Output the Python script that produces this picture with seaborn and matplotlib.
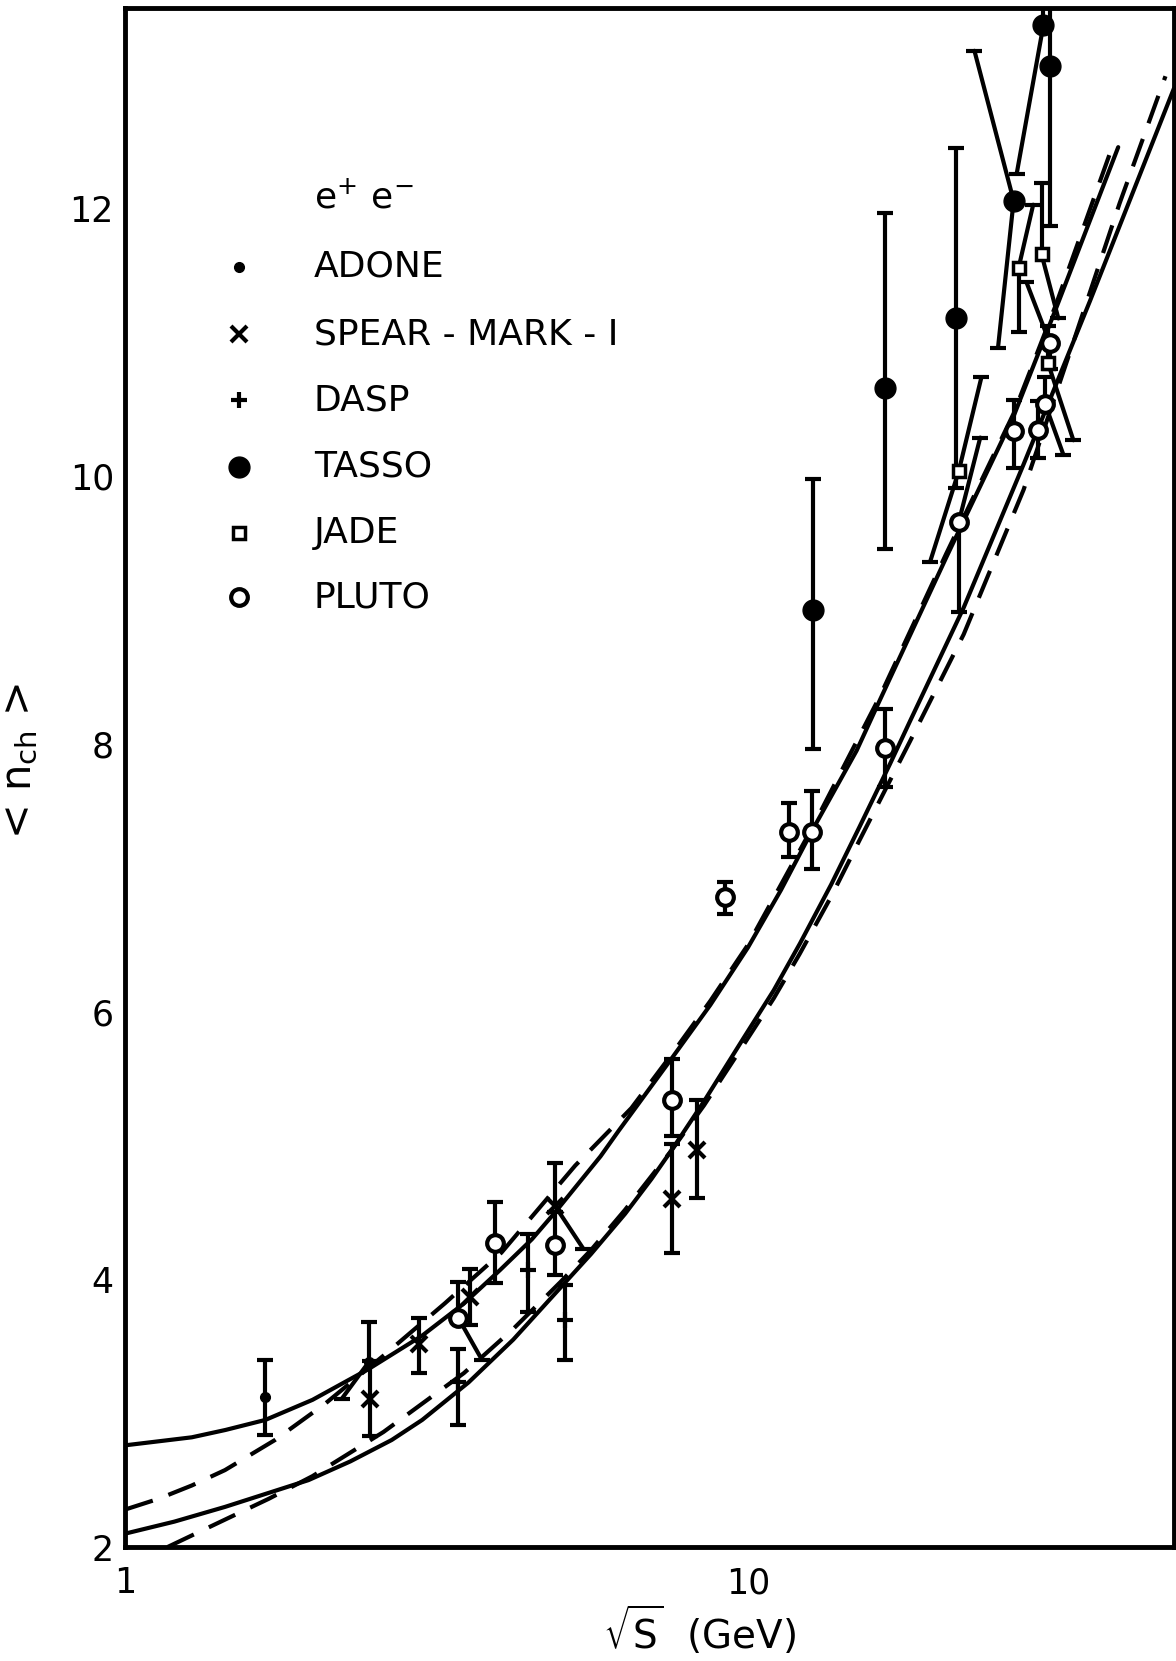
import matplotlib
matplotlib.use("Agg")
import matplotlib.pyplot as plt
import numpy as np
import pandas as pd
import seaborn as sb

nan = np.nan

# theory curves
upper_solid_x = [1.0, 1.28, 1.45, 1.68, 2.0, 2.46, 3.0, 3.5, 4.0, 4.5, 4.9, 5.8, 6.2, 7.54, 8.7, 10.0, 11.3, 12.7, 14.94, 16.29, 20.84, 26.7, 31.2, 39.3]
upper_solid_y = [2.76, 2.82, 2.875, 2.95, 3.10, 3.33, 3.58, 3.82, 4.07, 4.30, 4.50, 4.92, 5.11, 5.65, 6.05, 6.48, 6.91, 7.36, 7.95, 8.33, 9.40, 10.45, 11.25, 12.46]

upper_dash_x = [1.0, 1.131, 1.28, 1.447, 1.741, 2.094, 2.615, 3.26, 4.02, 5.28, 6.5, 7.54, 8.7, 10.0, 12.7, 16.3, 20.8, 26.7, 31.2, 38.7]
upper_dash_y = [2.28, 2.36, 2.46, 2.575, 2.80, 3.07, 3.44, 3.82, 4.20, 4.85, 5.28, 5.68, 6.08, 6.50, 7.38, 8.36, 9.42, 10.47, 11.28, 12.50]

lower_solid_x = [1.0, 1.2, 1.447, 1.97, 2.3, 2.68, 3.0, 3.56, 4.2, 4.96, 5.6, 6.35, 7.0, 7.54, 8.5, 9.83, 11.0, 12.12, 13.6, 15.1, 16.9, 18.2, 22.2, 27.7, 35.4, 48.3]
lower_solid_y = [2.10, 2.19, 2.30, 2.50, 2.64, 2.80, 2.95, 3.23, 3.55, 3.92, 4.19, 4.49, 4.75, 4.965, 5.33, 5.80, 6.16, 6.51, 6.95, 7.38, 7.85, 8.17, 9.02, 10.09, 11.31, 12.90]

lower_dash_x = [1.17, 1.41, 1.70, 2.0, 2.6, 3.5, 4.2, 5.0, 5.6, 6.35, 7.5, 8.5, 9.8, 11.0, 12.1, 13.6, 15.1, 18.2, 22.2, 27.7, 33.0, 39.5, 46.8]
lower_dash_y = [2.0, 2.18, 2.36, 2.53, 2.86, 3.30, 3.63, 3.98, 4.22, 4.52, 4.95, 5.30, 5.74, 6.10, 6.43, 6.86, 7.28, 8.02, 8.82, 9.90, 10.95, 12.04, 12.99]

# measurements: x, y, lower end, upper end of vertical bar (nan = bar is slanted / absent)
adone_x = [1.68, 2.46]
adone_y = [3.12, 3.38]
adone_lo = [2.84, nan]
adone_hi = [3.40, 3.68]

spear_x = [2.47, 2.96, 3.58, 4.90, 7.54, 8.27]
spear_y = [3.11, 3.52, 3.87, 4.55, 4.60, 4.97]
spear_lo = [2.83, 3.30, 3.66, nan, 4.20, 4.61]
spear_hi = [3.39, 3.71, 4.08, 4.87, 5.01, 5.34]

dasp_x = [3.43, 4.44, 5.09]
dasp_y = [3.235, 4.07, 3.70]
dasp_lo = [2.91, 3.76, 3.40]
dasp_hi = [3.48, 4.34, 3.96]

tasso_x = [12.7, 16.6, 21.6, 26.7, 29.8, 30.5]
tasso_y = [9.0, 10.66, 11.18, 12.06, 13.37, 13.07]
tasso_lo = [7.96, 9.46, 9.91, nan, nan, 11.87]
tasso_hi = [9.98, 11.97, 12.45, nan, 14.6, 14.3]

jade_x = [21.8, 27.2, 29.6, 30.3]
jade_y = [10.04, 11.56, 11.66, 10.85]
jade_lo = [nan, 11.08, nan, nan]
jade_hi = [nan, nan, 12.19, 11.12]

pluto_x = [3.43, 3.93, 4.90, 7.54, 9.19, 11.65, 12.68, 16.6, 21.8, 26.7, 29.2, 30.0, 30.5]
pluto_y = [3.71, 4.27, 4.255, 5.34, 6.86, 7.34, 7.34, 7.97, 9.66, 10.34, 10.35, 10.54, 11.0]
pluto_lo = [nan, 3.97, 4.03, 5.07, 6.73, 7.155, 7.07, 7.68, 8.99, 10.06, 10.14, nan, 10.80]
pluto_hi = [3.98, 4.58, 4.50, 5.65, 6.97, 7.56, 7.65, 8.26, nan, 10.57, 10.56, 10.74, nan]

# slanted error bars as drawn in the figure: from the point to the capped end
slant_x0 = [2.46, 3.43, 4.90, 21.8, 30.0, 30.5, 26.7, 26.7, 29.8, 21.8, 21.8, 27.2, 29.6, 30.3]
slant_y0 = [3.38, 3.71, 4.55, 9.66, 10.54, 11.0, 12.06, 12.06, 13.37, 10.04, 10.04, 11.56, 11.66, 10.85]
slant_x1 = [2.23, 3.74, 5.44, 23.6, 32.1, 28.0, 23.1, 25.2, 27.0, 19.6, 23.7, 28.7, 31.5, 33.3]
slant_y1 = [3.11, 3.40, 4.23, 10.29, 10.16, 11.45, 13.18, 10.96, 12.26, 9.36, 10.74, 12.03, 11.18, 10.27]

legend_names = ["ADONE", "SPEAR - MARK - I", "DASP", "TASSO", "JADE", "PLUTO"]

sb.set_theme(style="white")
plt.rcParams['font.family'] = ['DejaVu Sans']
plt.rcParams['mathtext.fontset'] = 'dejavusans'
for k in ['text.color', 'axes.labelcolor', 'xtick.color', 'ytick.color', 'axes.edgecolor']:
    plt.rcParams[k] = '#000000'

INK = '#000000'
LW = 3.0
CAP = 12

fig = plt.figure(figsize=(11.76, 16.61), dpi=100)
ax = fig.add_axes([0.1063, 0.0686, 0.8920, 0.9266])
ax.set_xscale('log')

curves = pd.concat([
    pd.DataFrame({'x': upper_solid_x, 'y': upper_solid_y, 'curve': 'a', 'kind': 'solid'}),
    pd.DataFrame({'x': upper_dash_x, 'y': upper_dash_y, 'curve': 'b', 'kind': 'dashed'}),
    pd.DataFrame({'x': lower_solid_x, 'y': lower_solid_y, 'curve': 'c', 'kind': 'solid'}),
    pd.DataFrame({'x': lower_dash_x, 'y': lower_dash_y, 'curve': 'd', 'kind': 'dashed'}),
])
sb.lineplot(data=curves, x='x', y='y', units='curve', style='kind',
            dashes={'solid': '', 'dashed': (7, 4)}, color=INK,
            linewidth=LW, estimator=None, sort=False, legend=False, ax=ax)


def bars(xs, ys, lo, hi):
    for x, y, a, b in zip(xs, ys, lo, hi):
        for end in (a, b):
            if not np.isnan(end):
                ax.plot([x, x], [y, end], color=INK, lw=LW, zorder=3)
                ax.plot([x], [end], marker='_', ms=CAP, mew=LW, color=INK, zorder=3)


bars(adone_x, adone_y, adone_lo, adone_hi)
bars(spear_x, spear_y, spear_lo, spear_hi)
bars(dasp_x, dasp_y, dasp_lo, dasp_hi)
bars(tasso_x, tasso_y, tasso_lo, tasso_hi)
bars(jade_x, jade_y, jade_lo, jade_hi)
bars(pluto_x, pluto_y, pluto_lo, pluto_hi)

for x0, y0, x1, y1 in zip(slant_x0, slant_y0, slant_x1, slant_y1):
    ax.plot([x0, x1], [y0, y1], color=INK, lw=LW, zorder=3)
    ax.plot([x1], [y1], marker='_', ms=CAP, mew=LW, color=INK, zorder=3)

styles = [
    dict(marker='o', ms=7, mfc=INK, mec=INK, mew=1),
    dict(marker='x', ms=11, mfc=INK, mec=INK, mew=3),
    dict(marker='+', ms=12, mfc=INK, mec=INK, mew=3),
    dict(marker='o', ms=15, mfc=INK, mec=INK, mew=1),
    dict(marker='s', ms=9, mfc='white', mec=INK, mew=2.5),
    dict(marker='o', ms=12, mfc='white', mec=INK, mew=3),
]
series = [(adone_x, adone_y), (spear_x, spear_y), (dasp_x, dasp_y),
          (tasso_x, tasso_y), (jade_x, jade_y), (pluto_x, pluto_y)]
for (xs, ys), st in zip(series, styles):
    ax.plot(xs, ys, ls='none', zorder=4, **st)

# legend block written inside the frame
rows = [0.832, 0.788, 0.745, 0.702, 0.659, 0.617]
ax.text(0.180, 0.8765, r'$\mathrm{e^{+}\ e^{-}}$', transform=ax.transAxes,
        fontsize=26, va='center', ha='left', color=INK)
for r, name, st in zip(rows, legend_names, styles):
    ax.plot([0.109], [r], transform=ax.transAxes, ls='none', clip_on=False, **st)
    ax.text(0.180, r, name, transform=ax.transAxes, fontsize=26, va='center',
            ha='left', color=INK)

ax.set_xlim(1, 48.3)
ax.set_ylim(2, 13.5)
ax.set_xticks([1, 10])
ax.set_xticklabels(['1', '10'])
ax.set_xticks([2, 3, 4, 5, 6, 7, 8, 9, 20, 30, 40], minor=True)
ax.set_xticklabels([], minor=True)
ax.set_yticks([2, 4, 6, 8, 10, 12])
ax.set_yticks([3, 5, 7, 9, 11, 13], minor=True)
ax.tick_params(axis='x', which='major', direction='in', length=38, width=LW,
               labelsize=25, pad=14, top=False, color=INK, labelcolor=INK)
ax.tick_params(axis='x', which='minor', direction='in', length=14, width=LW,
               top=False, color=INK)
ax.tick_params(axis='y', which='both', direction='in', length=20, width=LW,
               labelsize=25, pad=8, right=False, color=INK, labelcolor=INK)
for s in ax.spines.values():
    s.set_linewidth(3.5)
    s.set_color(INK)

ax.set_xlabel(r'$\sqrt{\mathrm{S}}$  (GeV)', fontsize=28, color=INK)
ax.xaxis.set_label_coords(0.548, -0.037)
ax.set_ylabel(r'< n$_{\mathrm{ch}}$ >', fontsize=30, color=INK)
ax.yaxis.set_label_coords(-0.081, 0.511)

fig.savefig('out.png', dpi=100)
